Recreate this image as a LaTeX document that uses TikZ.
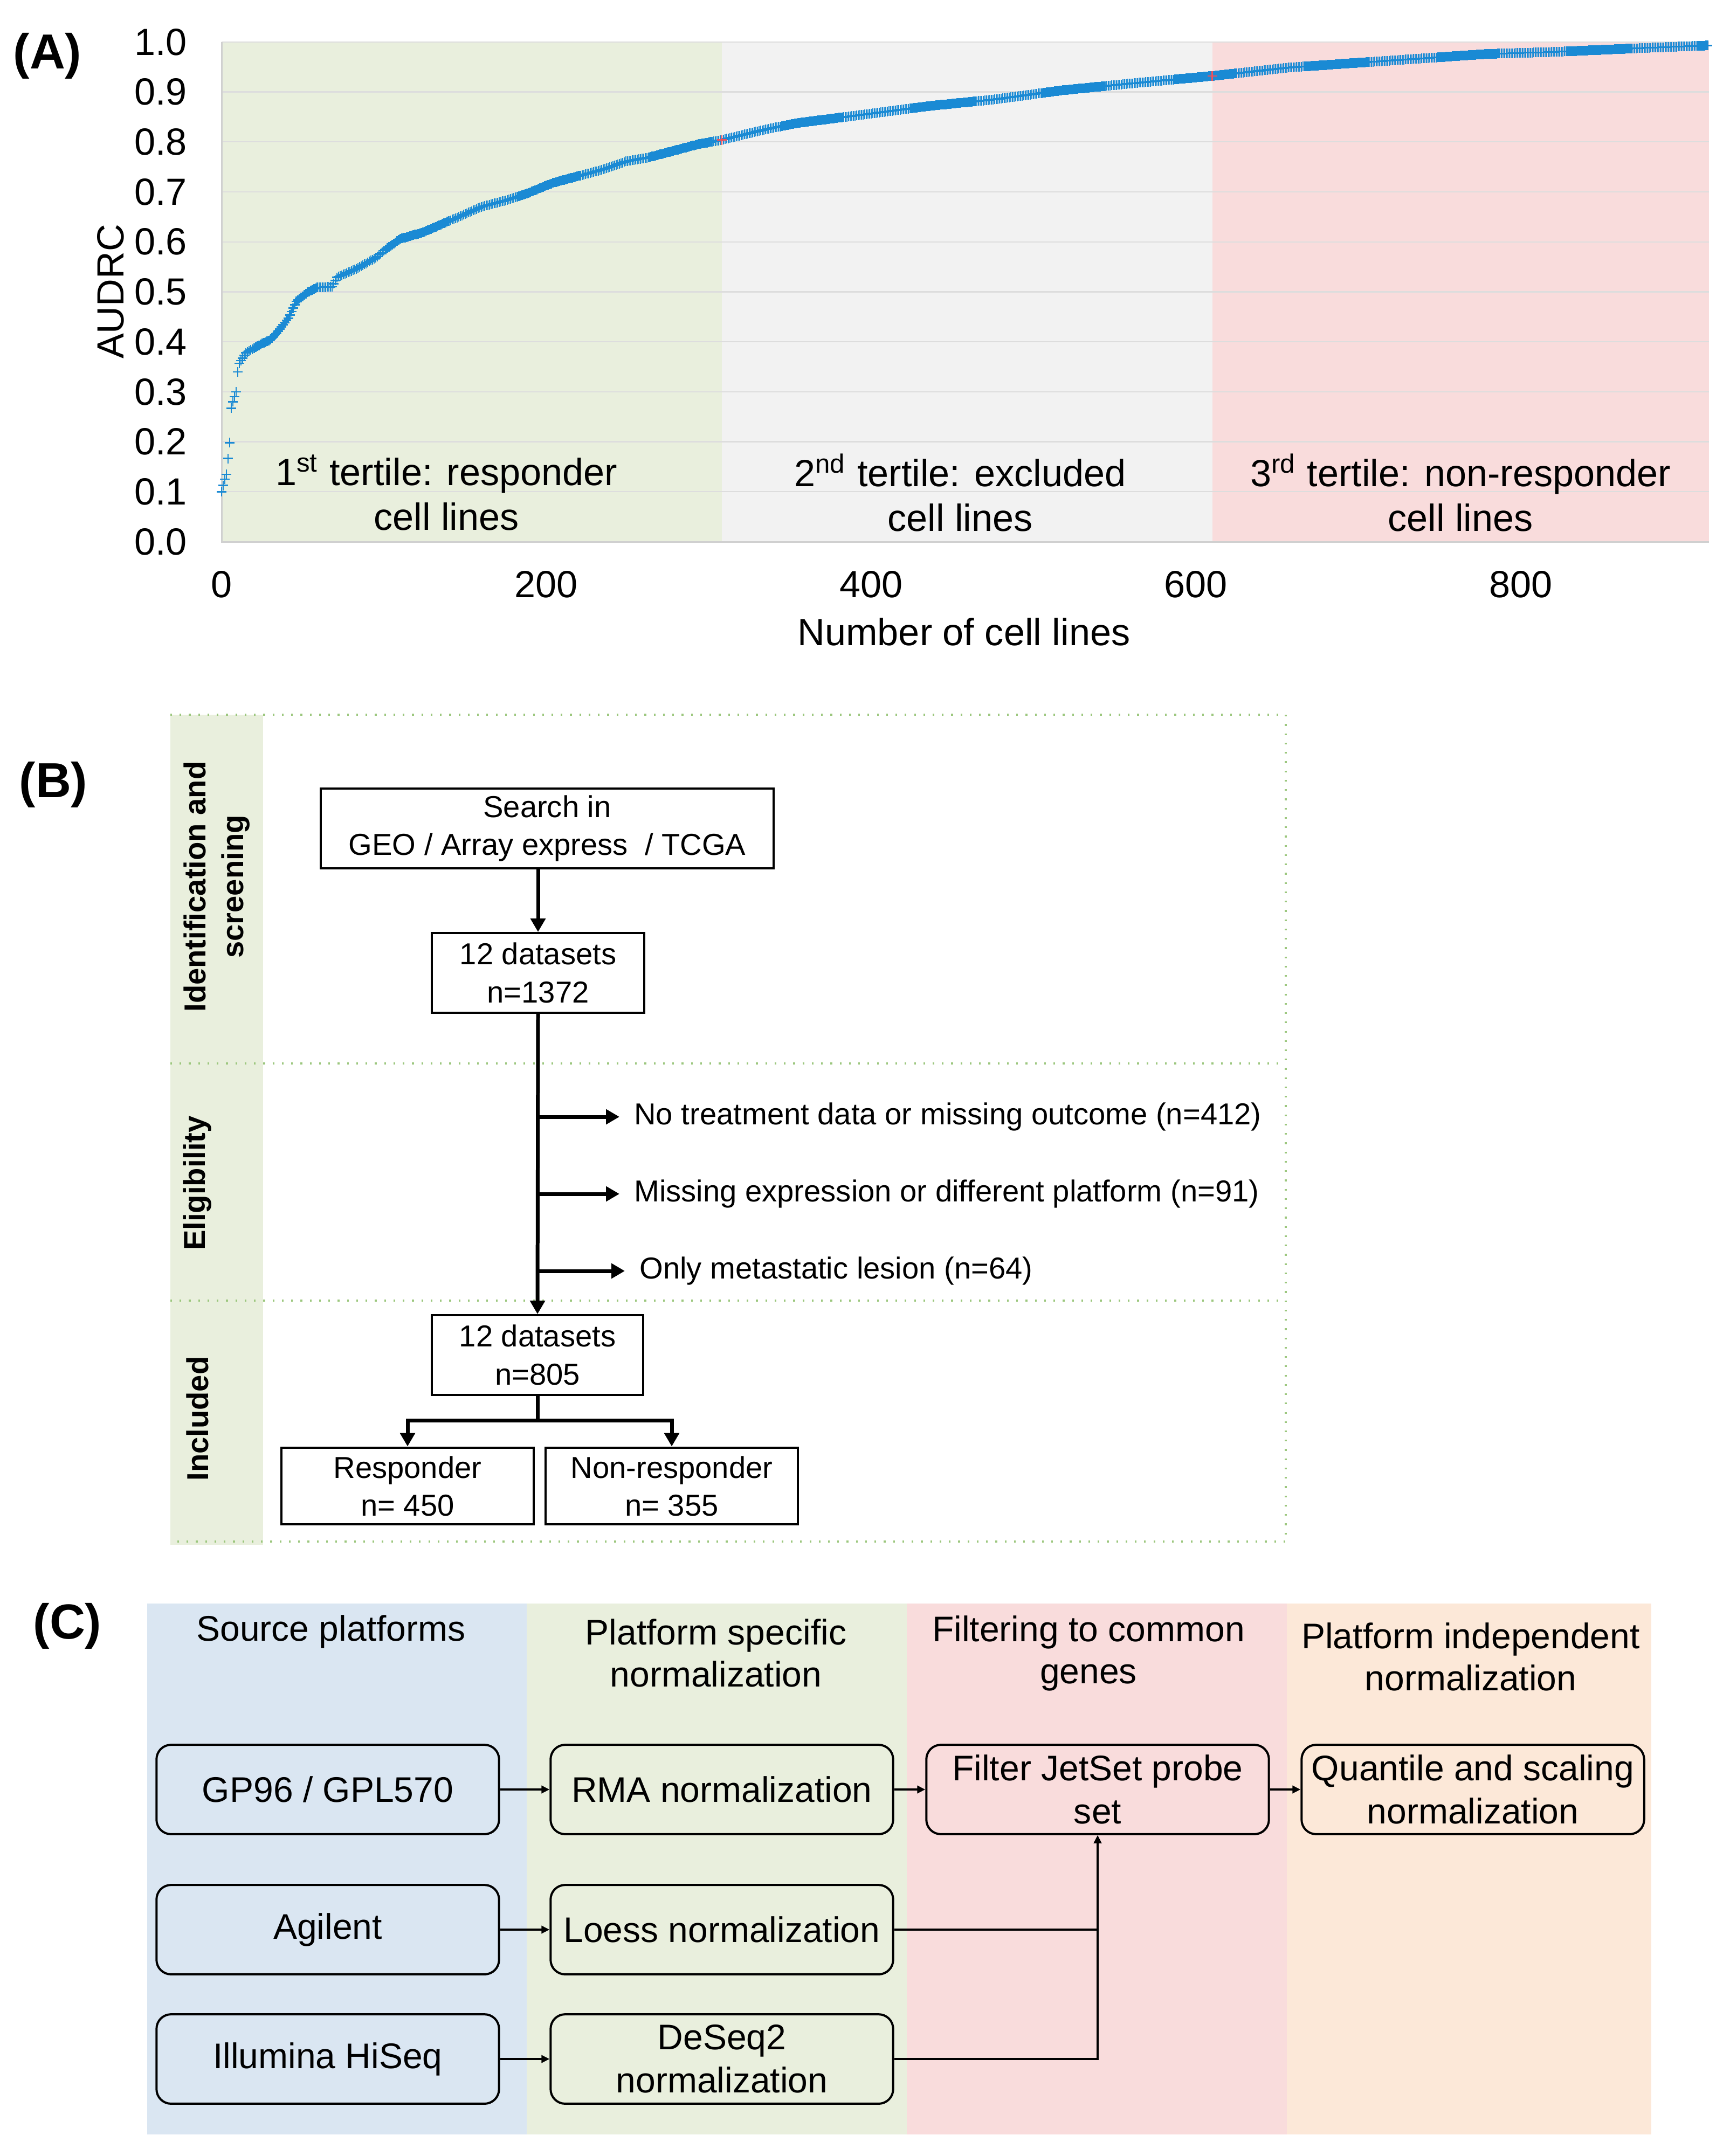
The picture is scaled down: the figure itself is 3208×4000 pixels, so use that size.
\documentclass[tikz,border=0pt]{standalone}
\usepackage{fontspec}
\setmainfont{Liberation Sans}
\usepackage{tikz}
\usetikzlibrary{arrows.meta,positioning,calc}

\definecolor{tgreen}{HTML}{E9EFDD}
\definecolor{tgray}{HTML}{F2F2F2}
\definecolor{tpink}{HTML}{F9DCDC}
\definecolor{tblue}{HTML}{DAE6F2}
\definecolor{torange}{HTML}{FCE8D8}
\definecolor{gridgray}{HTML}{DDDDDD}
\definecolor{axisgray}{HTML}{D0D0D0}
\definecolor{dotgreen}{HTML}{9CC77E}
\definecolor{mkblue}{HTML}{1A8AD4}
\definecolor{mkred}{HTML}{F0505A}

\begin{document}
\begin{tikzpicture}[x=0.005cm,y=-0.005cm]
      \tikzstyle{panel}=[font=\bfseries\fontsize{13}{15}\selectfont]
      \tikzstyle{fontA}=[font=\fontsize{10}{11.8}\selectfont]
      \tikzstyle{ytick}=[fontA,anchor=east,inner sep=0,xshift=-0.315cm]
      \tikzstyle{xtick}=[fontA,inner sep=0,yshift=-0.395cm]
      \tikzstyle{bandlab}=[fontA,align=center,inner sep=0]
      \tikzstyle{gridline}=[gridgray,line width=0.012cm]
      \tikzstyle{axisline}=[axisgray,line width=0.015cm]
      \tikzstyle{mk}=[mkblue,line width=0.0125cm]
      \tikzstyle{boxB}=[draw,line width=0.02cm,align=center,minimum height=0.74cm,
                        inner sep=0,font=\fontsize{8}{10}\selectfont]
      \tikzstyle{exText}=[anchor=west,inner sep=0,font=\fontsize{8}{10}\selectfont]
      \tikzstyle{stage}=[rotate=90,align=center,inner sep=0,font=\bfseries\fontsize{8}{10}\selectfont]
      \tikzstyle{lineB}=[line width=0.035cm]
      \tikzstyle{arrB}=[lineB,-{Triangle[length=0.125cm,width=0.135cm]}]
      \tikzstyle{dotline}=[dotgreen,dotted,line width=0.016cm]
      \tikzstyle{headC}=[align=center,inner sep=0,font=\fontsize{9.4}{11.1}\selectfont]
      \tikzstyle{boxC}=[draw,rounded corners=0.135cm,line width=0.02cm,align=center,
                        minimum width=3.18cm,minimum height=0.83cm,inner sep=0,
                        font=\fontsize{9.4}{11.4}\selectfont]
      \tikzstyle{arrC}=[line width=0.02cm,-{Triangle[length=0.075cm,width=0.07cm]}]

      \useasboundingbox (0,0) rectangle (3208,4000);

      % (A) AUDRC per cell line
      \node[panel] (labA) at (88,104) {(A)};
      \begin{scope}[shift={(411,1005)},x=0.015075cm,y=4.64cm]
        \fill[tgreen] (0,0) rectangle (308,1);
        \fill[tgray] (308,0) rectangle (610,1);
        \fill[tpink] (610,0) rectangle (916,1);
        \foreach \g in {0.1,0.2,0.3,0.4,0.5,0.6,0.7,0.8,0.9,1}
          \draw[gridline] (0,\g) -- (916,\g);
        \draw[axisline] (0,1) -- (0,0) -- (916,0);
        \foreach \g/\t in {0/0.0,0.1/0.1,0.2/0.2,0.3/0.3,0.4/0.4,0.5/0.5,
                           0.6/0.6,0.7/0.7,0.8/0.8,0.9/0.9,1/1.0}
          \node[ytick] at (0,\g) {\t};
        \foreach \v in {0,200,400,600,800}
          \node[xtick] at (\v,0) {\v};
        % markers
        \foreach \xb/\yb [remember=\xb as \xa (initially 0),
                          remember=\yb as \ya (initially 0.100)] in
          {2/0.125,3/0.135,5/0.198,6/0.267,7/0.280,9/0.300,10/0.340,11/0.357,
           15/0.378,24/0.395,30/0.404,35/0.421,41/0.447,46/0.481,53/0.499,
           59/0.509,68/0.510,71/0.529,83/0.546,95/0.568,101/0.585,110/0.606,
           124/0.619,136/0.636,148/0.653,160/0.670,175/0.683,189/0.698,
           204/0.718,219/0.731,234/0.744,249/0.761,263/0.769,278/0.782,
           293/0.795,308/0.804,335/0.825,355/0.838,396/0.855,436/0.872,
           476/0.885,517/0.903,557/0.916,610/0.932,658/0.949,698/0.958,
           739/0.967,779/0.976,820/0.980,876/0.988,915/0.993} {
          \foreach \k in {\xa,...,\xb} {
            \pgfmathsetmacro\yk{\ya+(\yb-\ya)*(\k-\xa)/(\xb-\xa)}
            \draw[mk] (\k,\yk) +(-0.045cm,0) -- +(0.045cm,0) +(0,-0.045cm) -- +(0,0.045cm);
          }
        }
        \foreach \k/\yk in {308/0.804,610/0.932}
          \draw[mk,mkred] (\k,\yk) +(-0.045cm,0) -- +(0.045cm,0) +(0,-0.045cm) -- +(0,0.045cm);
      \end{scope}
      \node[fontA,rotate=90] (ylab) at (205,541) {AUDRC};
      \node[fontA] (xlab) at (1788,1172) {Number of cell lines};
      \node[bandlab] (t1) at (828,914) {1\textsuperscript{st} tertile: responder\\cell lines};
      \node[bandlab] (t2) at (1781,914) {2\textsuperscript{nd} tertile: excluded\\cell lines};
      \node[bandlab] (t3) at (2709,914) {3\textsuperscript{rd} tertile: non-responder\\cell lines};

      % (B) selection of patients
      \node[panel] (labB) at (99,1456) {(B)};
      \fill[tgreen] (316,1326) rectangle (488,2866);
      \draw[dotline] (316,1326) -- (2385,1326) -- (2385,2860) -- (316,2860);
      \draw[dotline] (316,1973) -- (2385,1973);
      \draw[dotline] (316,2413) -- (2385,2413);
      \node[stage] (stId) at (402,1645) {Identification and\\screening};
      \node[stage] (stEl) at (366,2195) {Eligibility};
      \node[stage] (stIn) at (366,2632) {Included};

      \node[boxB,minimum width=4.205cm] (search) at (1015,1537) {Search in\\GEO / Array express \ / TCGA};
      \node[boxB,minimum width=1.975cm] (ds1) at (998,1805) {12 datasets\\n=1372};
      \node[boxB,minimum width=1.965cm] (ds2) at (997,2514) {12 datasets\\n=805};
      \node[boxB,minimum width=2.34cm,minimum height=0.715cm] (resp) at (756,2757) {Responder\\n= 450};
      \node[boxB,minimum width=2.34cm,minimum height=0.715cm] (nonresp) at (1246,2757) {Non-responder\\n= 355};

      \node[exText] (ex1) at (1175,2072) {No treatment data or missing outcome (n=412)};
      \node[exText] (ex2) at (1175,2215) {Missing expression or different platform (n=91)};
      \node[exText] (ex3) at (1185,2358) {Only metastatic lesion (n=64)};

      \draw[arrB] (search.south -| ds1.north) -- (ds1.north);
      \draw[arrB] (ds1.south) -- (ds2.north);
      \foreach \e in {ex1,ex2,ex3}
        \draw[arrB,shorten >=0.13cm] (ds1.south |- \e.west) -- (\e.west);
      \coordinate (fork) at (997,2635);
      \draw[lineB] (ds2.south) -- (fork);
      \draw[arrB] (fork) -| (resp.north);
      \draw[arrB] (fork) -| (nonresp.north);

      % (C) normalization pipeline
      \node[panel] (labC) at (125,3017) {(C)};
      \fill[tblue] (273,2975) rectangle (977,3960);
      \fill[tgreen] (977,2975) rectangle (1682,3960);
      \fill[tpink] (1682,2975) rectangle (2387,3960);
      \fill[torange] (2387,2975) rectangle (3063,3960);

      \node[headC] (hd1) at (614,3027) {Source platforms};
      \node[headC] (hd2) at (1328,3067) {Platform specific\\normalization};
      \node[headC] (hd3) at (2019,3067) {Filtering to common\\genes};
      \node[headC] (hd4) at (2728,3074) {Platform independent\\normalization};

      \node[boxC] (gp) at (608,3320) {GP96 / GPL570};
      \node[boxC] (rma) at (1339,3320) {RMA normalization};
      \node[boxC] (filt) at (2036,3320) {Filter JetSet probe\\set};
      \node[boxC] (quant) at (2732,3320) {Quantile and scaling\\normalization};
      \node[boxC] (agil) at (608,3580) {Agilent};
      \node[boxC] (loess) at (1339,3580) {Loess normalization};
      \node[boxC] (illu) at (608,3820) {Illumina HiSeq};
      \node[boxC] (deseq) at (1339,3820) {DeSeq2\\normalization};

      \draw[arrC] (gp) -- (rma);
      \draw[arrC] (rma) -- (filt);
      \draw[arrC] (filt) -- (quant);
      \draw[arrC] (agil) -- (loess);
      \draw[arrC] (illu) -- (deseq);
      \draw[arrC] (loess.east) -| (filt.south);
      \draw[arrC] (deseq.east) -| (filt.south);
\end{tikzpicture}
\end{document}
